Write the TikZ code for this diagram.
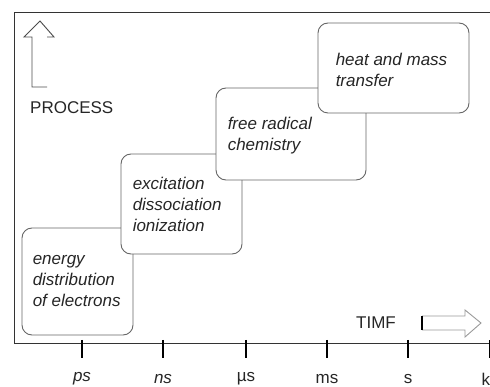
\documentclass[tikz,border=0pt]{standalone}
\usepackage{fontspec}
\setmainfont{Liberation Sans}
\begin{document}
\begin{tikzpicture}[x=1pt,y=-1pt,
  box/.style={draw=black!60, line width=0.9pt, fill=white, rounded corners=10pt, inner sep=0pt},
  boxtext/.style={inner sep=0pt, anchor=west, align=left, text=black!85, font=\fontsize{17}{21}\selectfont\itshape},
  lbl/.style={inner sep=0pt, text=black!85, font=\fontsize{17}{21}\selectfont},
  frame/.style={draw=black!80, line width=1pt},
  tick/.style={draw=black, line width=2.8pt},
  openarrow/.style={draw=black!55, line width=0.9pt, line join=miter}]
\useasboundingbox (0,0) rectangle (490,387);
\clip (0,0) rectangle (490,387);
% frame
\coordinate (ftl) at (14,13);
\coordinate (ftr) at (492,13);
\coordinate (fbl) at (14,344);
\coordinate (fbr) at (492,344);
\draw[frame] (ftr) -- (ftl) -- (fbl) -- (fbr);
% process arrow
\coordinate (pa1) at (47,87);
\coordinate (pa2) at (32,87);
\coordinate (pa3) at (32,37);
\coordinate (pa4) at (24,37);
\coordinate (pa5) at (40,21);
\coordinate (pa6) at (54,37);
\coordinate (pa7) at (47,37);
\draw[openarrow, draw=black!70] (pa1) -- (pa2) -- (pa3) -- (pa4) -- (pa5) -- (pa6) -- (pa7);
\node[lbl, anchor=west] (process) at (30,108) {PROCESS};
% boxes
\node[box, minimum width=111pt, minimum height=107pt] (b1) at (77.5,281.5) {};
\node[boxtext] (t1) at ([xshift=11pt]b1.west) {energy\\distribution\\of electrons};
\node[box, minimum width=121pt, minimum height=100pt] (b2) at (181.5,204) {};
\node[boxtext] (t2) at ([xshift=12pt]b2.west) {excitation\\dissociation\\ionization};
\node[box, minimum width=150pt, minimum height=92pt] (b3) at (291,134) {};
\node[boxtext] (t3) at ([xshift=12pt,yshift=-2pt]b3.west) {free radical\\chemistry};
\node[box, minimum width=151pt, minimum height=90pt] (b4) at (393.5,68) {};
\node[boxtext] (t4) at ([xshift=18pt,yshift=-2pt]b4.west) {heat and mass\\transfer};
% time arrow
\node[lbl] (time) at (376,323) {TIMF};
\coordinate (ta1) at (422,316);
\coordinate (ta2) at (465,316);
\coordinate (ta3) at (465,310);
\coordinate (ta4) at (481,323);
\coordinate (ta5) at (465,337);
\coordinate (ta6) at (465,330);
\coordinate (ta7) at (422,330);
\draw[openarrow, draw=black!40] (ta1) -- (ta2) -- (ta3) -- (ta4) -- (ta5) -- (ta6) -- (ta7);
\draw[draw=black, line width=1.6pt] (ta1) -- (ta7);
% ticks and labels
\foreach \x/\name/\txt in {82/ps/\itshape ps, 163/ns/\itshape ns, 246/us/µs, 327/ms/ms, 408/s/s, 490/ks/ks}{
  \coordinate (tk\name a) at (\x,340);
  \coordinate (tk\name b) at (\x,358);
  \draw[tick] (tk\name a) -- (tk\name b);
  \node[lbl] (l\name) at (\x,379) {\txt};
}
\end{tikzpicture}
\end{document}
